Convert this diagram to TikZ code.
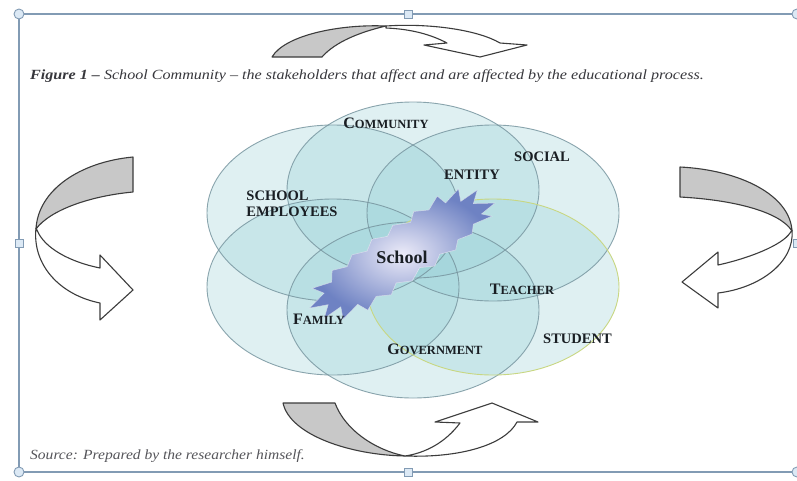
\documentclass[tikz,border=0pt]{standalone}
\usepackage{fontspec}
\setmainfont{Liberation Serif}
\usetikzlibrary{calc}
\definecolor{vennfill}{RGB}{150,208,214}
\definecolor{vennedge}{RGB}{120,150,160}
\definecolor{studedge}{RGB}{200,215,130}
\definecolor{arrowedge}{RGB}{60,60,60}
\definecolor{bandgray}{RGB}{200,200,200}
\definecolor{frameblue}{RGB}{130,155,180}
\definecolor{handlefill}{RGB}{220,233,245}
\definecolor{labeltext}{RGB}{25,30,35}
\definecolor{captext}{RGB}{55,55,60}
\definecolor{srctext}{RGB}{85,85,90}
\definecolor{starin}{RGB}{236,235,248}
\definecolor{starout}{RGB}{110,130,195}
\definecolor{starshadow}{RGB}{90,100,140}
\newcommand\sclab[2]{{\fontsize{16}{16}\selectfont #1}{\fontsize{12.5}{12.5}\selectfont #2}}
\begin{document}
\begin{tikzpicture}[x=1pt,y=-1pt,
  vennarea/.style={fill=vennfill, fill opacity=0.30, draw=none},
  vennline/.style={draw=vennedge, line width=0.9pt, draw opacity=0.85},
  arrowline/.style={draw=arrowedge, line width=1.1pt, line join=round},
  grayband/.style={arrowline, fill=bandgray},
  whiteband/.style={arrowline, fill=white},
  frameline/.style={draw=frameblue, line width=1.2pt},
  handlecirc/.style={draw=frameblue, fill=handlefill, line width=0.9pt},
  handlesq/.style={draw=frameblue, fill=handlefill, line width=0.9pt},
  lbl/.style={font=\bfseries\fontsize{14.5}{16}\selectfont, text=labeltext, inner sep=0pt},
  captxt/.style={inner sep=0pt, anchor=base west},
  starshape/.style={insert path={(105,0) -- (86,-10) -- (96,-20) -- (76,-18) -- (80,-30) -- (62,-24) -- (58,-34) -- (44,-26) -- (30,-32) -- (22,-24) -- (5,-30) -- (-5,-23) -- (-20,-28) -- (-30,-20) -- (-45,-24) -- (-55,-16) -- (-70,-20) -- (-76,-10) -- (-96,-14) -- (-88,-4) -- (-108,2) -- (-90,8) -- (-100,18) -- (-80,16) -- (-84,28) -- (-64,22) -- (-58,32) -- (-44,24) -- (-30,30) -- (-20,22) -- (-5,28) -- (8,20) -- (22,26) -- (32,18) -- (48,22) -- (55,14) -- (70,16) -- (76,8) -- (96,10) -- (88,3) -- cycle}}
]
\useasboundingbox (0,0) rectangle (797,480);
\fill[white] (0,0) rectangle (797,480);

% frame
\draw[frameline] (797,14) -- (19,14) -- (19,472) -- (797,472);
\draw[handlecirc] (19,14) circle (5);
\draw[handlecirc] (797,14) circle (5);
\draw[handlecirc] (19,472) circle (5);
\draw[handlecirc] (797,472) circle (5);
\draw[handlesq] (404,10) rectangle (412,18);
\draw[handlesq] (404,468) rectangle (412,476);
\draw[handlesq] (15,239) rectangle (23,247);
\draw[handlesq] (793,239) rectangle (801,247);

% caption
\node[captxt, text=captext] (cap) at (30,79) {\scalebox{1.15}[1]{\fontsize{14}{14}\selectfont\itshape\textbf{Figure 1 –} School Community – the stakeholders that affect and are affected by the educational process.}};
\node[captxt, text=srctext] (src) at (30,459) {\scalebox{1.11}[1]{\fontsize{14}{14}\selectfont\itshape Source: Prepared by the researcher himself.}};

% venn ellipses
\foreach \cx/\cy in {413/190, 493/213, 493/287, 413/310, 333/287, 333/213}
  \path[vennarea] (\cx,\cy) ellipse [x radius=126, y radius=88];
\foreach \cx/\cy in {413/190, 493/213, 413/310, 333/287, 333/213}
  \path[vennline] (\cx,\cy) ellipse [x radius=126, y radius=88];
\draw[draw=studedge, line width=0.9pt] (493,287) ellipse [x radius=126, y radius=88];

% school star
\begin{scope}[shift={(403,254)}, rotate=29]
  \fill[starshadow, fill opacity=0.45, starshape, shift={(-4,5)}];
  \shade[inner color=starin, outer color=starout, starshape];
  \draw[white, line width=0.5pt, draw opacity=0.6, starshape];
\end{scope}

% labels
\node[lbl] (community) at (386,123) {\sclab{C}{OMMUNITY}};
\node[lbl] (social) at (542,157) {SOCIAL};
\node[lbl] (entity) at (472,175) {ENTITY};
\node[lbl, align=left] (employees) at (292,204) {SCHOOL\\EMPLOYEES};
\node[lbl, font=\bfseries\fontsize{18}{18}\selectfont] (school) at (402,257) {School};
\node[lbl] (teacher) at (522,289) {\sclab{T}{EACHER}};
\node[lbl] (family) at (319,319) {\sclab{F}{AMILY}};
\node[lbl] (government) at (435,349) {\sclab{G}{OVERNMENT}};
\node[lbl, anchor=west] (student) at (543,339) {STUDENT};

% top arrow
\draw[whiteband] (386,26) .. controls (430,23) and (478,30) .. (500,43) -- (527,45) -- (480,57) -- (424,45) -- (447,43) .. controls (430,34) and (410,29) .. (386,28) -- cycle;
\draw[grayband] (272,57) .. controls (285,35) and (340,24) .. (386,26) .. controls (360,32) and (335,42) .. (322,57) -- cycle;

% left arrow
\draw[whiteband] (36,228) .. controls (32,265) and (60,295) .. (100,303) -- (100,320) -- (133,290) -- (100,255) -- (100,268) .. controls (70,262) and (44,248) .. (37,230) -- cycle;
\draw[grayband] (133,157) .. controls (80,162) and (38,190) .. (36,229) .. controls (50,210) and (90,196) .. (133,192) -- cycle;

% right arrow
\draw[whiteband] (792,230) .. controls (795,262) and (760,288) .. (718,293) -- (718,308) -- (682,282) -- (718,252) -- (718,265) .. controls (750,258) and (782,245) .. (790,233) -- cycle;
\draw[grayband] (680,167) .. controls (740,170) and (790,195) .. (792,231) .. controls (780,212) and (735,200) .. (680,197) -- cycle;

% bottom arrow
\draw[whiteband] (405,456) .. controls (460,458) and (505,445) .. (517,422) -- (538,422) -- (492,403) -- (435,422) -- (460,423) .. controls (445,443) and (425,453) .. (405,456) -- cycle;
\draw[grayband] (283,403) -- (335,403) .. controls (345,430) and (375,450) .. (405,456) .. controls (350,455) and (290,435) .. (283,403) -- cycle;
\end{tikzpicture}
\end{document}
